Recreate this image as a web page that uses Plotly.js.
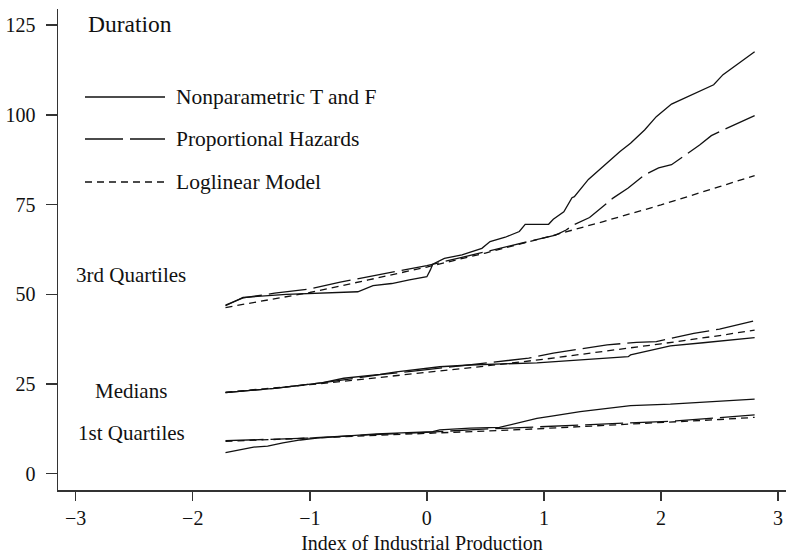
<!DOCTYPE html>
<html>
<head>
<meta charset="utf-8">
<script src="https://cdn.plot.ly/plotly-3.0.1.min.js"></script>
<style>html,body{margin:0;padding:0;background:#fff;}#chart{width:790px;height:555px;}</style>
</head>
<body>
<div id="chart"></div>
<script>
// ---------- data ----------
// 3rd quartiles
const np3X = [-1.72, -1.57, -1.2, -0.9, -0.59, -0.46, -0.3, -0.15, 0.0, 0.03, 0.05, 0.15, 0.3, 0.47, 0.54, 0.67, 0.79, 0.84, 1.04, 1.08, 1.17, 1.24, 1.26, 1.38, 1.65, 1.74, 1.86, 1.96, 2.09, 2.45, 2.53, 2.8];
const np3Y = [46.8, 49.1, 50.0, 50.3, 50.7, 52.4, 53.0, 54.0, 54.9, 56.8, 58.4, 60.0, 61.0, 62.8, 64.7, 65.9, 67.5, 69.5, 69.5, 70.9, 73.0, 76.9, 77.2, 82.0, 89.8, 92.1, 95.8, 99.5, 103.0, 108.4, 111.2, 117.6];
const ph3X = [-1.72, -1.57, -1.3, -1.0, -0.74, -0.4, 0.0, 0.3, 0.6, 0.9, 1.1, 1.19, 1.25, 1.39, 1.59, 1.72, 1.86, 1.98, 2.09, 2.33, 2.43, 2.53, 2.8];
const ph3Y = [47.0, 49.0, 50.3, 51.5, 53.4, 55.5, 58.0, 60.3, 62.6, 64.8, 66.5, 67.9, 69.3, 71.4, 76.8, 79.6, 83.3, 85.2, 86.1, 91.6, 94.2, 95.8, 99.8];
const ll3X = [-1.72, -1.0, -0.5, 0.0, 0.5, 1.0, 1.5, 2.0, 2.5, 2.8];
const ll3Y = [46.3, 50.5, 54.0, 57.6, 61.5, 65.7, 70.2, 74.9, 80.0, 83.1];
// medians
const npMX = [-1.72, -1.3, -0.89, -0.71, -0.4, -0.26, 0.11, 0.37, 0.94, 1.5, 1.72, 1.74, 2.08, 2.36, 2.8];
const npMY = [22.6, 23.8, 25.4, 26.6, 27.7, 28.4, 29.8, 30.3, 30.9, 32.2, 32.6, 33.1, 35.6, 36.5, 37.9];
const phMX = [-1.72, -1.3, -0.9, -0.4, 0.0, 0.4, 0.87, 1.08, 1.3, 1.54, 1.79, 1.96, 2.28, 2.5, 2.8];
const phMY = [22.6, 23.8, 25.3, 27.6, 29.0, 30.5, 32.2, 33.6, 34.6, 35.9, 36.6, 36.8, 39.1, 40.3, 42.6];
const llMX = [-1.72, -1.0, -0.5, 0.0, 0.5, 1.0, 1.5, 2.0, 2.5, 2.8];
const llMY = [22.7, 24.8, 26.5, 28.2, 30.0, 31.9, 34.0, 36.2, 38.5, 40.0];
// 1st quartiles
const np1X = [-1.72, -1.48, -1.36, -1.23, -1.08, -0.94, -0.43, 0.05, 0.11, 0.37, 0.62, 0.79, 0.94, 1.08, 1.31, 1.74, 2.08, 2.8];
const np1Y = [5.9, 7.4, 7.7, 8.6, 9.4, 9.9, 11.1, 11.7, 12.2, 12.7, 12.9, 14.3, 15.4, 16.1, 17.3, 19.0, 19.4, 20.8];
const ph1X = [-1.72, -1.3, -1.03, -0.5, 0.0, 0.4, 0.74, 1.22, 1.68, 2.13, 2.8];
const ph1Y = [9.2, 9.6, 9.9, 10.8, 11.5, 12.3, 12.8, 13.4, 14.0, 14.7, 16.4];
const ll1X = [-1.72, -1.0, -0.5, 0.0, 0.5, 1.0, 1.5, 2.0, 2.5, 2.8];
const ll1Y = [9.0, 9.9, 10.5, 11.2, 11.9, 12.6, 13.4, 14.2, 15.1, 15.7];

const seriesNames = ["Nonparametric T and F", "Proportional Hazards", "Loglinear Model"];
const groupLabels = ["3rd Quartiles", "Medians", "1st Quartiles"];
const xTicks = [-3, -2, -1, 0, 1, 2, 3];
const yTicks = [0, 25, 50, 75, 100, 125];
const yLabel = "Duration";
const xLabel = "Index of Industrial Production";

// ---------- styling ----------
const INK = "#111";
const FONT = "Liberation Serif, Times New Roman, serif";
const dashes = ["solid", "38px,7px", "7px,5px"];

const curves = [
  [np3X, np3Y, 0], [ph3X, ph3Y, 1], [ll3X, ll3Y, 2],
  [npMX, npMY, 0], [phMX, phMY, 1], [llMX, llMY, 2],
  [np1X, np1Y, 0], [ph1X, ph1Y, 1], [ll1X, ll1Y, 2]
];
const traces = curves.map(([x, y, k]) => ({
  x: x, y: y, type: "scatter", mode: "lines",
  name: seriesNames[k], showlegend: false, hoverinfo: "skip",
  line: {color: INK, width: 1.3, dash: dashes[k]}
}));

// plot area in pixels: left 58, right 786, top 9, bottom 490
const L = 58, R = 786, T = 9, B = 490;
const px = v => (v - L) / (R - L);
const py = v => (B - v) / (B - T);

const shapes = [];
const annotations = [];
const legendY = [97, 139, 182];
seriesNames.forEach((name, k) => {
  shapes.push({type: "line", xref: "paper", yref: "paper",
    x0: px(85), x1: px(165), y0: py(legendY[k]), y1: py(legendY[k]),
    line: {color: INK, width: 1.3, dash: dashes[k]}});
  annotations.push({xref: "paper", yref: "paper", x: px(174), y: py(legendY[k]),
    xanchor: "left", yanchor: "middle", text: name, showarrow: false,
    font: {family: FONT, size: 21.5, color: INK}});
});
annotations.push({xref: "paper", yref: "paper", x: px(86), y: py(24),
  xanchor: "left", yanchor: "middle", text: yLabel, showarrow: false,
  font: {family: FONT, size: 23.5, color: INK}});
const groupY = [275, 391, 433];
groupLabels.forEach((g, i) => {
  annotations.push({xref: "paper", yref: "paper", x: px(131), y: py(groupY[i]),
    xanchor: "center", yanchor: "middle", text: g, showarrow: false,
    font: {family: FONT, size: 21, color: INK}});
});

const axisCommon = {
  showgrid: false, zeroline: false, showline: true, linecolor: "#333", linewidth: 1.5,
  ticks: "outside", tickcolor: "#333", tickwidth: 1.5,
  tickfont: {family: FONT, size: 20, color: INK}
};

const layout = {
  width: 790, height: 555,
  margin: {l: L, r: 790 - R, t: T, b: 555 - B, pad: 0},
  paper_bgcolor: "#fff", plot_bgcolor: "#fff",
  showlegend: false,
  xaxis: Object.assign({}, axisCommon, {
    range: [-3.151, 3.068], tickmode: "array", tickvals: xTicks, ticklen: 9,
    title: {text: xLabel, font: {family: FONT, size: 20, color: INK}, standoff: 8}
  }),
  yaxis: Object.assign({}, axisCommon, {
    range: [-4.54, 129.5], tickmode: "array", tickvals: yTicks, ticklen: 11,
    ticklabelstandoff: 6
  }),
  shapes: shapes,
  annotations: annotations
};

Plotly.newPlot("chart", traces, layout, {displayModeBar: false, staticPlot: true});
</script>
</body>
</html>
